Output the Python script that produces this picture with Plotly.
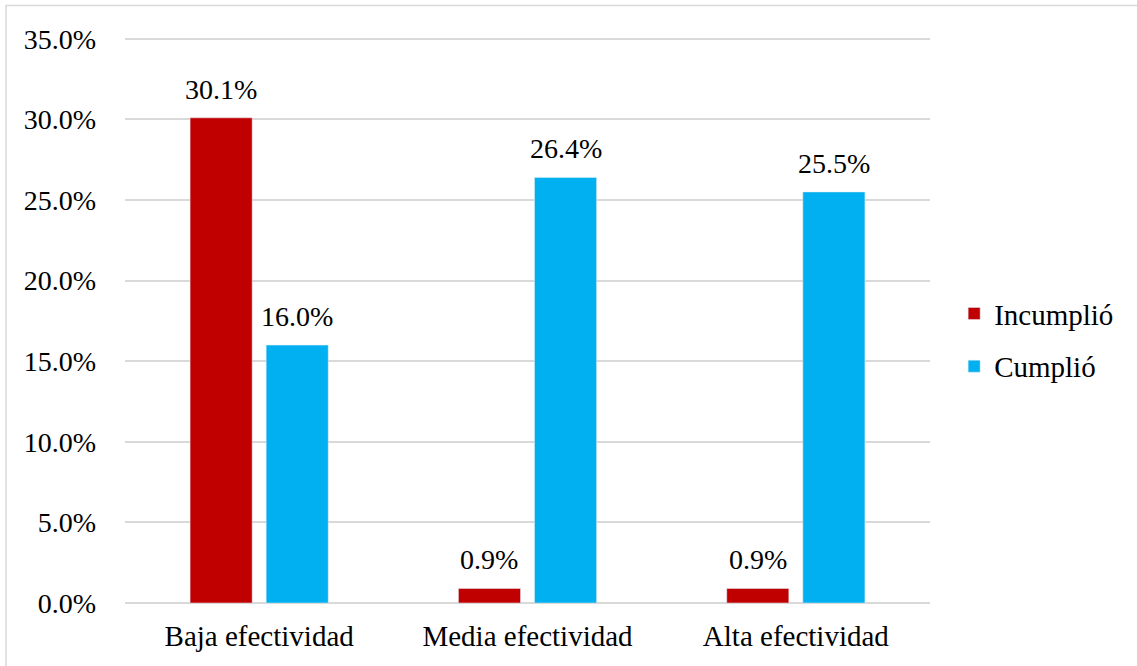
import plotly.graph_objects as go

categories = ["Baja efectividad", "Media efectividad", "Alta efectividad"]
incumplio = [30.1, 0.9, 0.9]
cumplio = [16.0, 26.4, 25.5]
y_ticks = [0, 5, 10, 15, 20, 25, 30, 35]

RED = "#C00000"
BLUE = "#00B0F0"
FONT = "Liberation Serif, Times New Roman, serif"

fig = go.Figure()
fig.add_trace(go.Bar(name="Incumplió", x=categories, y=incumplio,
                     marker_color=RED, legendgroup="inc"))
fig.add_trace(go.Bar(name="Cumplió", x=categories, y=cumplio,
                     marker_color=BLUE, legendgroup="cum"))

# value labels above each bar (bar centers offset within each group)
offset = 0.1418
for i, cat in enumerate(categories):
    for val, dx in ((incumplio[i], -offset), (cumplio[i], offset)):
        fig.add_annotation(
            x=i + dx, y=val, xref="x", yref="y",
            text=f"{val:.1f}%", showarrow=False,
            yanchor="bottom", yshift=11,
            font=dict(family=FONT, size=28, color="#000000"),
        )

# light frame around the whole chart
fig.add_shape(
    type="rect", xref="paper", yref="paper",
    x0=-0.1478, x1=1.27, y0=-0.13, y1=1.05,
    line=dict(color="#D9D9D9", width=1.5), fillcolor="rgba(0,0,0,0)",
    layer="below",
)

fig.update_layout(
    width=1137, height=666,
    margin=dict(l=125, r=207, t=34, b=63),
    paper_bgcolor="white", plot_bgcolor="white",
    barmode="group", bargap=0.433, bargroupgap=0.184,
    font=dict(family=FONT, size=28, color="#000000"),
    legend=dict(
        x=1.03, y=0.462, xanchor="left", yanchor="middle",
        font=dict(family=FONT, size=29), itemwidth=30,
        tracegroupgap=12, bgcolor="rgba(0,0,0,0)",
    ),
    showlegend=True,
)
fig.update_xaxes(
    showgrid=False, showline=False, ticks="",
    tickfont=dict(family=FONT, size=29), ticklabelstandoff=13,
)
fig.update_yaxes(
    range=[0, 35.3], tickvals=y_ticks,
    ticktext=[f"{v:.1f}%" for v in y_ticks],
    showgrid=True, gridcolor="#D9D9D9", gridwidth=1.5,
    zeroline=True, zerolinecolor="#D9D9D9", zerolinewidth=1.5,
    showline=False, ticks="", ticklabelstandoff=28,
    tickfont=dict(family=FONT, size=28),
)

fig.write_html("out.html")
